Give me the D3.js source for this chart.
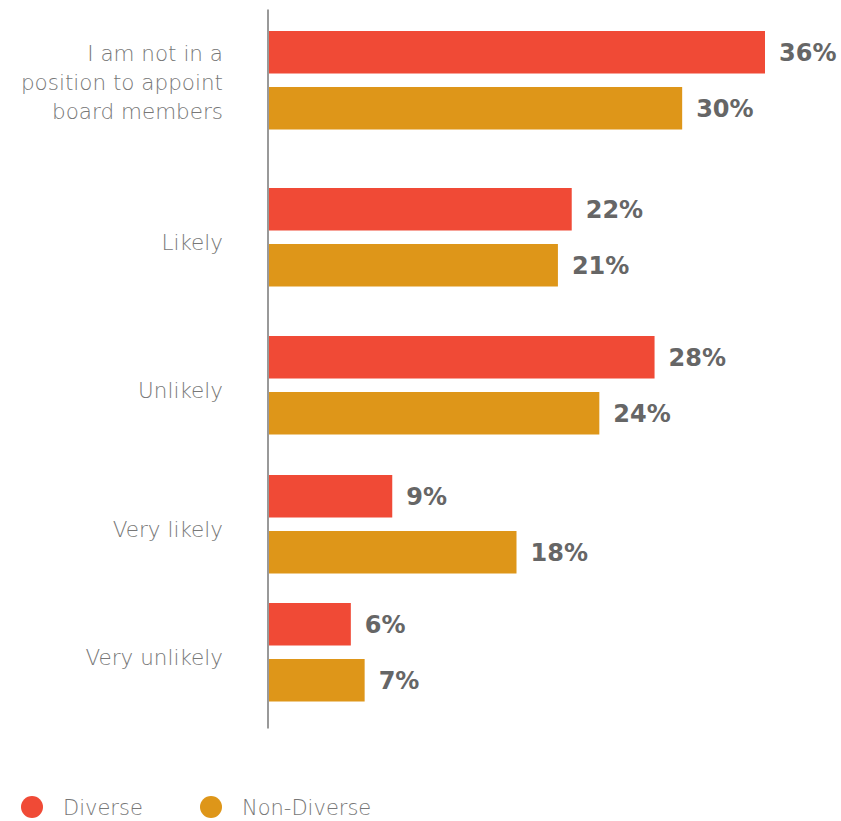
<!DOCTYPE html>
<html>
<head>
<meta charset="utf-8">
<script src="https://cdn.jsdelivr.net/npm/d3@7"></script>
<style>
  html, body { margin: 0; padding: 0; background: #fff; }
  svg { display: block; }
</style>
</head>
<body>
<svg id="chart" width="841" height="821"></svg>
<script>
// Survey responses: likelihood of appointing board members
const categories = [
  ["I am not in a", "position to appoint", "board members"],
  ["Likely"],
  ["Unlikely"],
  ["Very likely"],
  ["Very unlikely"]
];
const seriesNames = ["Diverse", "Non-Diverse"];
const diverse = [36, 22, 28, 9, 6];
const nonDiverse = [30, 21, 24, 18, 7];

const colors = { "Diverse": "#F04A36", "Non-Diverse": "#DE9619" };

const svg = d3.select("#chart");

// Horizontal value scale (percent)
const x = d3.scaleLinear().domain([0, 36]).range([268, 765]);

// Group placement: each group's top edge, by category index
const groupY = d3.scaleLinear()
  .domain(d3.range(categories.length))
  .range([31, 188, 336, 475, 603]);

// Bars within a group
const inner = d3.scaleBand()
  .domain(seriesNames)
  .range([0, 98.5])
  .paddingInner(0.241)
  .paddingOuter(0);

const rows = [];
categories.forEach((c, i) => {
  rows.push({ cat: i, series: "Diverse", value: diverse[i] });
  rows.push({ cat: i, series: "Non-Diverse", value: nonDiverse[i] });
});

// Bars
svg.append("g").selectAll("rect")
  .data(rows)
  .join("rect")
  .attr("x", x(0))
  .attr("y", d => groupY(d.cat) + inner(d.series))
  .attr("width", d => x(d.value) - x(0))
  .attr("height", inner.bandwidth())
  .attr("fill", d => colors[d.series]);

// Value labels
svg.append("g").selectAll("text")
  .data(rows)
  .join("text")
  .attr("x", d => x(d.value) + 14)
  .attr("y", d => groupY(d.cat) + inner(d.series) + inner.bandwidth() / 2)
  .attr("dy", "0.36em")
  .attr("font-family", "DejaVu Sans, sans-serif")
  .attr("font-weight", "bold")
  .attr("font-size", 24)
  .attr("fill", "#666666")
  .text(d => d.value + "%");

// Vertical axis line
const yAxis = d3.axisLeft(d3.scaleLinear().range([9, 728])).ticks(0).tickSize(0).tickFormat("");
const axisG = svg.append("g").attr("transform", `translate(${x(0) - 0.5},0)`).call(yAxis);
axisG.select(".domain").attr("stroke", "#999").attr("stroke-width", 2);

// Category labels
const groupCenter = i => groupY(i) + inner.range()[1] / 2;
const lineH = 29;
const labels = svg.append("g")
  .attr("font-family", "DejaVu Sans, sans-serif")
  .attr("font-weight", 200)
  .attr("font-size", 21.5)
  .attr("fill", "#777777")
  .attr("text-anchor", "end");

categories.forEach((lines, i) => {
  const t = labels.append("text")
    .attr("x", 223)
    .attr("y", groupCenter(i) + 13 - (lines.length - 1) * lineH / 2 - (lines.length > 1 ? 3 : 0));
  lines.forEach((ln, j) => {
    t.append("tspan").attr("x", 223).attr("dy", j === 0 ? 0 : lineH).text(ln);
  });
});

// Legend
const legendX = d3.scalePoint().domain(seriesNames).range([32, 211]);
const legend = svg.append("g").selectAll("g")
  .data(seriesNames)
  .join("g")
  .attr("transform", d => `translate(${legendX(d)},807)`);
legend.append("circle")
  .attr("r", 11)
  .attr("fill", d => colors[d]);
legend.append("text")
  .attr("x", 31)
  .attr("y", 8)
  .attr("font-family", "DejaVu Sans, sans-serif")
  .attr("font-weight", 200)
  .attr("font-size", 21)
  .attr("fill", "#777777")
  .text(d => d);
</script>
</body>
</html>
